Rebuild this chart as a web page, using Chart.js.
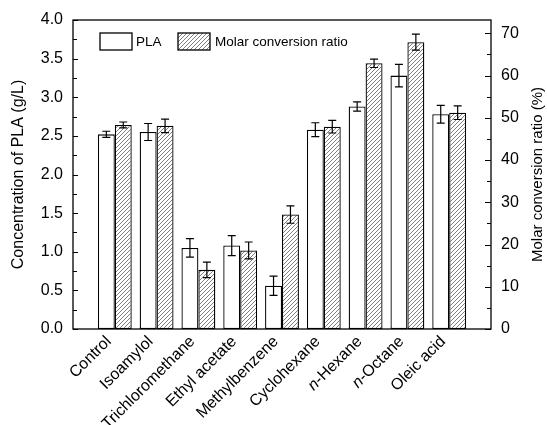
<!DOCTYPE html>
<html><head><meta charset="utf-8">
<script src="https://cdn.jsdelivr.net/npm/chart.js@4.4.1/dist/chart.umd.min.js"></script>
<style>html,body{margin:0;padding:0;background:#fff}</style>
</head><body>
<canvas id="c" width="547" height="425"></canvas>
<script>
const categories = ['Control','Isoamylol','Trichloromethane','Ethyl acetate','Methylbenzene','Cyclohexane','n-Hexane','n-Octane','Oleic acid'];
const plaValues   = [2.52, 2.55, 1.05, 1.08, 0.56, 2.58, 2.88, 3.28, 2.78];
const plaErrors   = [0.04, 0.11, 0.12, 0.13, 0.125, 0.09, 0.06, 0.145, 0.115];
const molarValues = [48.3, 48.1, 14.0, 18.6, 27.1, 47.9, 62.9, 67.9, 51.2];
const molarErrors = [0.7, 1.6, 1.85, 2.0, 2.06, 1.5, 1.0, 1.9, 1.6];
const leftTicks  = [0, 0.5, 1.0, 1.5, 2.0, 2.5, 3.0, 3.5, 4.0];
const rightTicks = [0, 10, 20, 30, 40, 50, 60, 70];
const leftTitle = 'Concentration of PLA (g/L)';
const rightTitle = 'Molar conversion ratio (%)';
const legendLabels = ['PLA', 'Molar conversion ratio'];

const FAMILY = '"Liberation Sans", Arial, Helvetica, sans-serif';
const canvas = document.getElementById('c');
const ctx = canvas.getContext('2d');

function makeHatch() {
  const c = document.createElement('canvas');
  c.width = 4; c.height = 4;
  const g = c.getContext('2d');
  g.fillStyle = '#fff'; g.fillRect(0,0,4,4);
  g.strokeStyle = '#707070'; g.lineWidth = 0.9;
  g.beginPath();
  g.moveTo(0,4); g.lineTo(4,0);
  g.moveTo(-1,1); g.lineTo(1,-1);
  g.moveTo(3,5); g.lineTo(5,3);
  g.stroke();
  return ctx.createPattern(c, 'repeat');
}
const hatch = makeHatch();

const xLabels = [''].concat(categories, ['']);
const pad = arr => [null].concat(arr, [null]);

function drawRotLabel(c, text, x, y) {
  c.save();
  c.translate(x, y);
  c.rotate(-Math.PI / 4);
  const normal = '16px ' + FAMILY;
  const italic = 'italic 16px ' + FAMILY;
  const parts = text.startsWith('n-') ? [['n', italic], [text.slice(1), normal]] : [[text, normal]];
  let total = 0;
  parts.forEach(p => { c.font = p[1]; total += c.measureText(p[0]).width; });
  let cx = -total;
  c.textAlign = 'left'; c.textBaseline = 'middle'; c.fillStyle = '#000';
  parts.forEach(p => { c.font = p[1]; c.fillText(p[0], cx, 0); cx += c.measureText(p[0]).width; });
  c.restore();
}

const decor = {
  id: 'decor',
  afterDatasetsDraw(chart) {
    const c = chart.ctx;
    const a = chart.chartArea;
    const xs = chart.scales.x, ys = chart.scales.y, ys2 = chart.scales.y2;
    c.save();
    // error bars
    c.strokeStyle = '#000'; c.lineWidth = 1.2;
    const m0 = chart.getDatasetMeta(0), m1 = chart.getDatasetMeta(1);
    const cap = 4;
    function eb(x, v, e, sc) {
      const y1 = sc.getPixelForValue(v + e), y2 = sc.getPixelForValue(v - e);
      c.beginPath();
      c.moveTo(x, y1); c.lineTo(x, y2);
      c.moveTo(x - cap, y1); c.lineTo(x + cap, y1);
      c.moveTo(x - cap, y2); c.lineTo(x + cap, y2);
      c.stroke();
    }
    categories.forEach((_, i) => {
      eb(m0.data[i + 1].x, plaValues[i], plaErrors[i], ys);
      eb(m1.data[i + 1].x, molarValues[i], molarErrors[i], ys2);
    });
    // frame
    c.lineWidth = 1.3;
    c.strokeRect(a.left, a.top, a.right - a.left, a.bottom - a.top);
    // ticks
    c.lineWidth = 1;
    c.beginPath();
    for (let v = 0; v <= 4.0001; v += 0.25) {
      const y = Math.round(ys.getPixelForValue(v)) + 0.5;
      const len = (Math.abs(v / 0.5 - Math.round(v / 0.5)) < 1e-6) ? 5 : 4;
      c.moveTo(a.left, y); c.lineTo(a.left + len, y);
    }
    for (let v = 0; v <= 70.0001; v += 5) {
      const y = Math.round(ys2.getPixelForValue(v)) + 0.5;
      const len = (v % 10 === 0) ? 6 : 4;
      c.moveTo(a.right, y); c.lineTo(a.right - len, y);
    }
    c.stroke();
    // x labels
    categories.forEach((t, i) => {
      drawRotLabel(c, t, xs.getPixelForValue(i + 1) - 6, a.bottom + 10);
    });
    // axis titles
    c.fillStyle = '#000';
    c.textAlign = 'center'; c.textBaseline = 'middle';
    const midY = (a.top + a.bottom) / 2;
    c.font = '16px ' + FAMILY;
    c.save(); c.translate(19, midY); c.rotate(-Math.PI / 2); c.fillText(leftTitle, 0, 0); c.restore();
    c.font = '15px ' + FAMILY;
    c.save(); c.translate(538, midY); c.rotate(-Math.PI / 2); c.fillText(rightTitle, 0, 0); c.restore();
    // legend
    const lx = a.left + 27, ly = a.top + 13, bw = 32, bh = 17;
    c.lineWidth = 1.3; c.strokeStyle = '#000';
    c.fillStyle = '#fff'; c.fillRect(lx, ly, bw, bh); c.strokeRect(lx, ly, bw, bh);
    c.font = '13.5px ' + FAMILY; c.textAlign = 'left'; c.fillStyle = '#000';
    c.fillText(legendLabels[0], lx + bw + 4, ly + bh / 2 + 0.5);
    const lx2 = lx + 78;
    c.fillStyle = hatch; c.fillRect(lx2, ly, bw, bh); c.strokeRect(lx2, ly, bw, bh);
    c.fillStyle = '#000';
    c.fillText(legendLabels[1], lx2 + bw + 5, ly + bh / 2 + 0.5);
    c.restore();
  }
};

new Chart(ctx, {
  type: 'bar',
  data: {
    labels: xLabels,
    datasets: [
      { label: legendLabels[0], data: pad(plaValues), yAxisID: 'y', backgroundColor: '#fff', borderColor: '#000', borderWidth: 1.3, borderSkipped: false, categoryPercentage: 0.81, barPercentage: 1.0 },
      { label: legendLabels[1], data: pad(molarValues), yAxisID: 'y2', backgroundColor: hatch, borderColor: '#000', borderWidth: 1.3, borderSkipped: false, categoryPercentage: 0.81, barPercentage: 1.0 }
    ]
  },
  options: {
    responsive: false, animation: false, devicePixelRatio: 1,
    layout: { padding: { top: 20, left: 0, right: 0, bottom: 0 } },
    plugins: { legend: { display: false }, tooltip: { enabled: false } },
    scales: {
      x: { type: 'category', offset: false, grid: { display: false, drawTicks: false }, border: { display: false }, ticks: { display: false }, afterFit(s) { s.height = 96; } },
      y: { position: 'left', min: 0, max: 4,
           afterBuildTicks(s) { s.ticks = leftTicks.map(v => ({ value: v })); },
           ticks: { callback: v => Number(v).toFixed(1), font: { size: 16, family: FAMILY }, color: '#000', padding: 10 },
           grid: { display: false, drawTicks: false }, border: { display: false },
           afterFit(s) { s.width = 73; } },
      y2: { position: 'right', min: 0, max: 73.15,
           afterBuildTicks(s) { s.ticks = rightTicks.map(v => ({ value: v })); },
           ticks: { callback: v => String(v), font: { size: 16, family: FAMILY }, color: '#000', padding: 10 },
           grid: { display: false, drawTicks: false }, border: { display: false },
           afterFit(s) { s.width = 56; } }
    }
  },
  plugins: [decor]
});
</script>
</body></html>
